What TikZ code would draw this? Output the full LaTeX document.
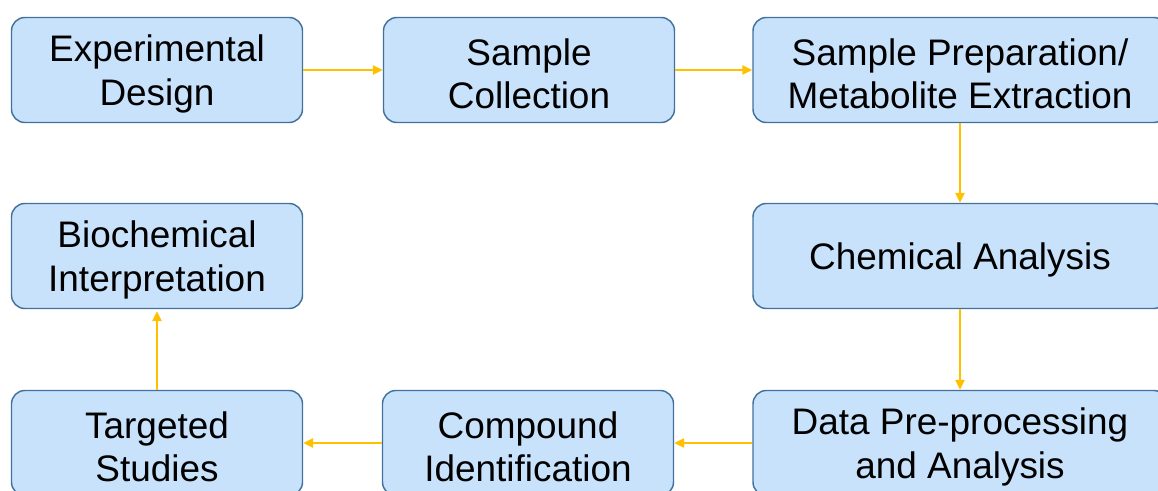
\documentclass[tikz,border=0pt]{standalone}
\usepackage{fontspec}
\setmainfont{Liberation Sans}
\usetikzlibrary{arrows.meta}
\definecolor{boxfill}{RGB}{200,226,251}
\definecolor{boxline}{RGB}{66,113,156}
\definecolor{flow}{RGB}{255,192,0}
\tikzset{
  stage/.style={draw=boxline, fill=boxfill, line width=1.1pt, rounded corners=10pt,
    minimum width=291*0.75pt, minimum height=105*0.75pt, inner sep=0pt},
  stagetext/.style={align=center, font=\fontsize{27.7}{32.5}\selectfont,
    inner sep=0pt, yshift=-3pt},
  wide/.style={minimum width=414*0.75pt},
  flowarrow/.style={draw=flow, line width=1.3pt, -{Triangle[length=7.5pt,width=7pt]}}
}
\begin{document}
\begin{tikzpicture}[x=0.75pt,y=-0.75pt]
  \useasboundingbox (0,0) rectangle (1158,491);
  \clip (0,0) rectangle (1158,491);
  % workflow stages
  \node[stage, label={[stagetext]center:{Experimental\\Design}}] (exp) at (157,70) {};
  \node[stage, label={[stagetext]center:{Sample\\Collection}}] (col) at (529,70) {};
  \node[stage, wide, label={[stagetext]center:{Sample Preparation/\\Metabolite Extraction}}] (prep) at (960,70) {};
  \node[stage, wide, label={[stagetext]center:{Chemical Analysis}}] (chem) at (960,256) {};
  \node[stage, wide, label={[stagetext]center:{Data Pre-processing\\and Analysis}}] (data) at (960,443) {};
  \node[stage, label={[stagetext]center:{Compound\\Identification}}] (comp) at (528,443) {};
  \node[stage, label={[stagetext]center:{Targeted\\Studies}}] (targ) at (157,443) {};
  \node[stage, label={[stagetext]center:{Biochemical\\Interpretation}}] (bio) at (157,256) {};
  % flow between stages
  \draw[flowarrow] (exp.east) -- (col.west);
  \draw[flowarrow] (col.east) -- (prep.west);
  \draw[flowarrow] (prep.south) -- (chem.north);
  \draw[flowarrow] (chem.south) -- (data.north);
  \draw[flowarrow] (data.west) -- (comp.east);
  \draw[flowarrow] (comp.west) -- (targ.east);
  \draw[flowarrow] (targ.north) -- ([yshift=-1.5pt]bio.south);
\end{tikzpicture}
\end{document}
